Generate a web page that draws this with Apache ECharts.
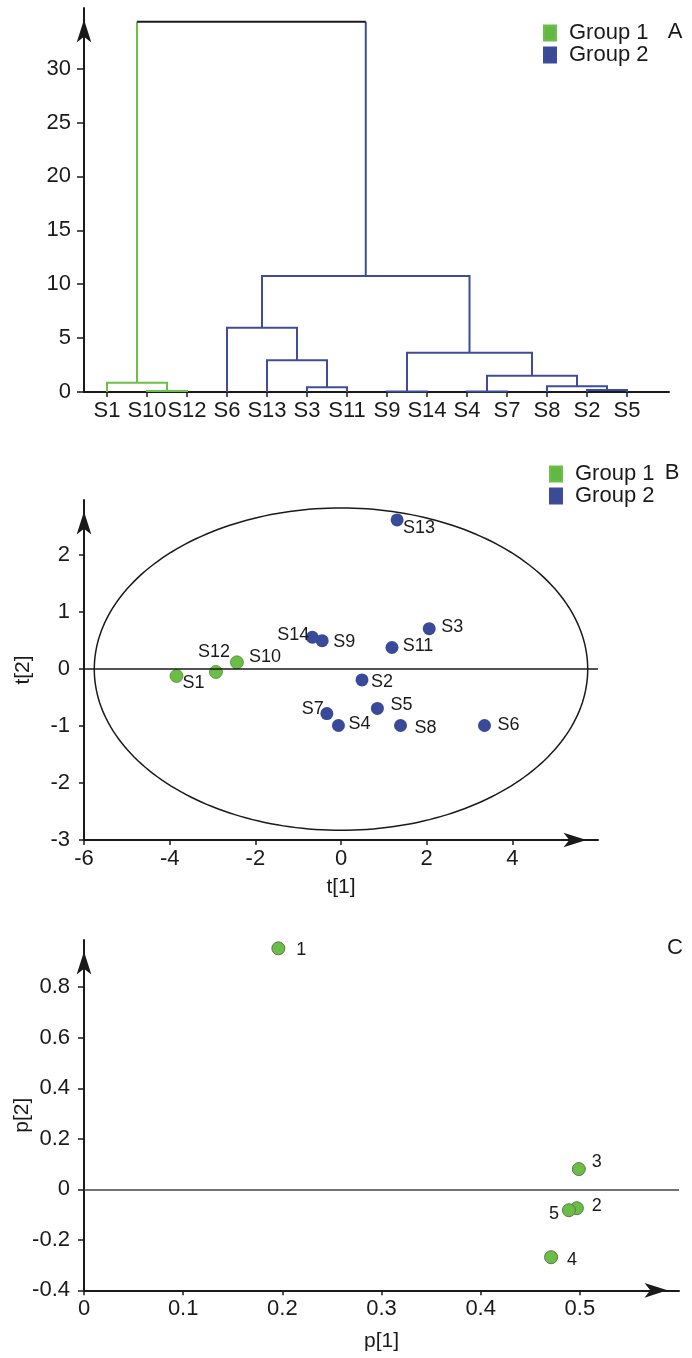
<!DOCTYPE html>
<html><head><meta charset="utf-8">
<script src="https://cdn.jsdelivr.net/npm/echarts@6/dist/echarts.min.js"></script>
<style>html,body{margin:0;padding:0;background:#fff}#c{width:692px;height:1358px}</style>
</head><body><div id="c"></div>
<script>
// ---------- Panel A: dendrogram ----------
const leafNames = ['S1','S10','S12','S6','S13','S3','S11','S9','S14','S4','S7','S8','S2','S5'];
// nodes 0..13 are leaves (index in leafNames); merge k creates node 14+k
const mergeLeft   = [1, 0, 5, 4, 3, 7, 9, 12, 11, 20, 19, 18, 15];
const mergeRight  = [2, 14, 6, 16, 17, 8, 10, 13, 21, 22, 23, 24, 25];
const mergeHeight = [0.10, 0.86, 0.44, 2.94, 5.96, 0.05, 0.05, 0.19, 0.53, 1.51, 3.65, 10.76, 34.35];
const mergeGroup  = [1, 1, 2, 2, 2, 2, 2, 2, 2, 2, 2, 2, 0];
const leafGroup   = [1, 1, 1, 2, 2, 2, 2, 2, 2, 2, 2, 2, 2, 2];
const dendroTicks = [0, 5, 10, 15, 20, 25, 30];

// ---------- Panel B: scores ----------
const scoreNames = ['S1','S12','S10','S14','S9','S11','S3','S13','S2','S5','S7','S4','S8','S6'];
const scoreT1    = [-3.84, -2.92, -2.43, -0.67, -0.44, 1.19, 2.06, 1.31, 0.49, 0.85, -0.33, -0.06, 1.39, 3.35];
const scoreT2    = [-0.12, -0.05, 0.12, 0.56, 0.50, 0.38, 0.71, 2.62, -0.19, -0.69, -0.78, -0.99, -0.99, -0.99];
const scoreGroup = [1, 1, 1, 2, 2, 2, 2, 2, 2, 2, 2, 2, 2, 2];
const ellipseRadii = [5.76, 2.83];
const t1Ticks = [-6, -4, -2, 0, 2, 4];
const t2Ticks = [-3, -2, -1, 0, 1, 2];

// ---------- Panel C: loadings ----------
const loadingNames = ['1', '2', '3', '4', '5'];
const loadingP1    = [0.196, 0.497, 0.499, 0.471, 0.489];
const loadingP2    = [0.954, -0.075, 0.080, -0.269, -0.083];
const p1Ticks = [0, 0.1, 0.2, 0.3, 0.4, 0.5];
const p2Ticks = [-0.4, -0.2, 0, 0.2, 0.4, 0.6, 0.8];

// label placement (style, px offsets of the label centre from the point)
const scoreLabelOffset = {S1:[17,7], S12:[-2,-20], S10:[28,-5], S14:[-19,-2], S9:[22,1], S11:[26,-1], S3:[23,-2],
  S13:[22,8], S2:[20,2], S5:[24,-3], S7:[-14,-5], S4:[21,-1], S8:[25,3], S6:[24,0]};
const loadingLabelOffset = {'1':[23,2], '2':[20,-2], '3':[18,-7], '4':[21,3], '5':[-15,4]};

const FONT = '"Liberation Sans", Arial, sans-serif';
const INK = '#1a1a1a';
const GREEN_LINE = '#6cc04a', BLUE_LINE = '#3d4d9c';
const GREEN_PT = '#6bbd45', BLUE_PT = '#3a4a9a';
const GREEN_KEY = '#62b843', BLUE_KEY = '#3b4a94';

// build dendrogram polylines from the merge table
const nodeX = leafNames.map((_, i) => i);
const nodeH = leafNames.map(() => 0);
const nodeG = leafGroup.slice();
const segs = {1: [], 2: [], 0: []};
mergeLeft.forEach((l, k) => {
  const r = mergeRight[k], h = mergeHeight[k], g = mergeGroup[k];
  const xl = nodeX[l], xr = nodeX[r];
  if (g === 0) {
    segs[nodeG[l]].push({coords: [[xl, nodeH[l]], [xl, h]]});
    segs[nodeG[r]].push({coords: [[xr, nodeH[r]], [xr, h]]});
    segs[0].push({coords: [[xl, h], [xr, h]]});
  } else {
    segs[g].push({coords: [[xl, nodeH[l]], [xl, h], [xr, h], [xr, nodeH[r]]]});
  }
  nodeX.push((xl + xr) / 2); nodeH.push(h); nodeG.push(g);
});

function axisCommon(ticks, arrow, labelMargin, tickLen, fmt) {
  return {
    type: 'value',
    nameMoveOverlap: false,
    axisLine: {show: true, onZero: false, lineStyle: {color: INK, width: 2},
      symbol: arrow ? ['none', 'arrow'] : 'none', symbolSize: [11, 23], symbolOffset: [0, -11.5]},
    axisTick: {show: true, customValues: ticks, length: tickLen, lineStyle: {color: INK, width: 1.5}},
    axisLabel: {show: true, customValues: ticks, margin: labelMargin, color: INK, fontSize: 22, fontFamily: FONT,
      formatter: fmt || (v => String(v))},
    splitLine: {show: false}
  };
}

const gridBase = {outerBoundsMode: 'none', containLabel: false};
const grids = [
  Object.assign({left: 84, top: 8, width: 585, height: 384}, gridBase),
  Object.assign({left: 84, top: 500, width: 514, height: 340}, gridBase),
  Object.assign({left: 84, top: 940, width: 595, height: 350.3}, gridBase)
];
const nameStyle = {color: INK, fontSize: 21, fontFamily: FONT};

const xAxes = [
  Object.assign(axisCommon(leafNames.map((_, i) => i), false, 8, 5, v => leafNames[Math.round(v)] || ''),
    {gridIndex: 0, min: -0.575, max: 14.05}),
  Object.assign(axisCommon(t1Ticks, true, 8, 5), {gridIndex: 1, min: -6, max: 6.0,
    name: 't[1]', nameLocation: 'middle', nameGap: 37, nameTextStyle: nameStyle}),
  Object.assign(axisCommon(p1Ticks, true, 8, 5), {gridIndex: 2, min: 0, max: 0.6,
    name: 'p[1]', nameLocation: 'middle', nameGap: 40, nameTextStyle: nameStyle})
];
const yAxes = [
  Object.assign(axisCommon(dendroTicks, true, 13, 7), {gridIndex: 0, min: 0, max: 35.62}),
  Object.assign(axisCommon(t2Ticks, true, 14, 5), {gridIndex: 1, min: -3, max: 2.97,
    name: 't[2]', nameLocation: 'middle', nameGap: 50, nameRotate: 90, nameTextStyle: nameStyle}),
  Object.assign(axisCommon(p2Ticks, true, 14, 6), {gridIndex: 2, min: -0.4, max: 0.987,
    name: 'p[2]', nameLocation: 'middle', nameGap: 51, nameRotate: 90, nameTextStyle: nameStyle})
];

function scoreData(group) {
  const out = [];
  scoreNames.forEach((n, i) => {
    if (scoreGroup[i] !== group) return;
    out.push({name: n, value: [scoreT1[i], scoreT2[i]], label: {offset: scoreLabelOffset[n]}});
  });
  return out;
}
const zeroLine = (color) => ({symbol: 'none', silent: true, label: {show: false},
  lineStyle: {color: color, width: 1.5, type: 'solid'}, data: [{yAxis: 0}]});

const ptLabel = {show: true, position: 'inside', formatter: '{b}', color: INK, fontSize: 18, fontFamily: FONT};

const series = [
  {name: 'Group 1', type: 'lines', coordinateSystem: 'cartesian2d', xAxisIndex: 0, yAxisIndex: 0, polyline: true,
    lineStyle: {color: GREEN_LINE, width: 2, opacity: 1}, data: segs[1], silent: true},
  {name: 'Group 2', type: 'lines', coordinateSystem: 'cartesian2d', xAxisIndex: 0, yAxisIndex: 0, polyline: true,
    lineStyle: {color: BLUE_LINE, width: 2, opacity: 1}, data: segs[2], silent: true},
  {name: 'root', type: 'lines', coordinateSystem: 'cartesian2d', xAxisIndex: 0, yAxisIndex: 0, polyline: true,
    lineStyle: {color: INK, width: 2, opacity: 1}, data: segs[0], silent: true},
  {type: 'custom', xAxisIndex: 1, yAxisIndex: 1, silent: true, clip: false, z: 1,
    data: [[0, 0, ellipseRadii[0], ellipseRadii[1]]],
    renderItem: function (params, api) {
      const cx = api.value(0), cy = api.value(1), a = api.value(2), b = api.value(3);
      const pts = [];
      for (let i = 0; i <= 240; i++) {
        const t = i / 240 * 2 * Math.PI;
        pts.push(api.coord([cx + a * Math.cos(t), cy + b * Math.sin(t)]));
      }
      return {type: 'polyline', shape: {points: pts}, style: {fill: 'none', stroke: INK, lineWidth: 1.5}};
    }},
  {name: 'Group 1', type: 'scatter', xAxisIndex: 1, yAxisIndex: 1, symbolSize: 13, z: 3,
    itemStyle: {color: GREEN_PT, borderColor: '#4e8f35', borderWidth: 0.8, opacity: 1},
    label: ptLabel, data: scoreData(1)},
  {name: 'Group 2', type: 'scatter', xAxisIndex: 1, yAxisIndex: 1, symbolSize: 13, z: 3,
    itemStyle: {color: BLUE_PT, opacity: 1}, label: ptLabel, data: scoreData(2),
    markLine: zeroLine(INK)},
  {name: 'loadings', type: 'scatter', xAxisIndex: 2, yAxisIndex: 2, symbolSize: 13, z: 3,
    itemStyle: {color: GREEN_PT, borderColor: '#5a7a4a', borderWidth: 1, opacity: 1},
    label: ptLabel,
    data: loadingNames.map((n, i) => ({name: n, value: [loadingP1[i], loadingP2[i]], label: {offset: loadingLabelOffset[n]}})),
    markLine: zeroLine('#444')}
];

const legendBase = {orient: 'vertical', itemWidth: 12, itemHeight: 15, itemGap: 0, padding: 0, icon: 'rect',
  selectedMode: false,
  textStyle: {color: INK, fontSize: 22, fontFamily: FONT, lineHeight: 22, padding: [0, 0, 0, 8]},
  data: [{name: 'Group 1', itemStyle: {color: GREEN_KEY}}, {name: 'Group 2', itemStyle: {color: BLUE_KEY}}]};

const option = {
  animation: false,
  textStyle: {fontFamily: FONT},
  grid: grids,
  xAxis: xAxes,
  yAxis: yAxes,
  legend: [
    Object.assign({}, legendBase, {left: 543, top: 22}),
    Object.assign({}, legendBase, {left: 549, top: 463})
  ],
  graphic: [
    {type: 'text', x: 675, y: 32, style: {text: 'A', fill: INK, fontSize: 22, fontFamily: FONT, align: 'center', verticalAlign: 'middle'}},
    {type: 'text', x: 672, y: 473, style: {text: 'B', fill: INK, fontSize: 22, fontFamily: FONT, align: 'center', verticalAlign: 'middle'}},
    {type: 'text', x: 675, y: 948, style: {text: 'C', fill: INK, fontSize: 22, fontFamily: FONT, align: 'center', verticalAlign: 'middle'}}
  ],
  series: series
};

const chart = echarts.init(document.getElementById('c'), null, {renderer: 'canvas'});
chart.setOption(option);
</script>
</body></html>
